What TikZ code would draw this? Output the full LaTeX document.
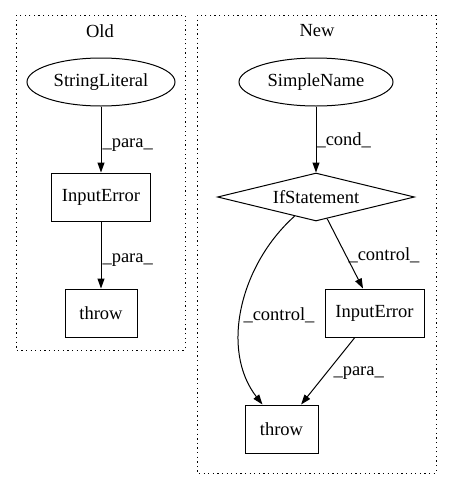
\documentclass[tikz,border=0pt]{standalone}
\usepackage{fontspec}
\setmainfont{Liberation Serif}
\usetikzlibrary{shapes.geometric}
\usetikzlibrary{arrows.meta}

\begin{document}
\begin{tikzpicture}[x=1pt,y=-1pt,line width=1pt,
  font=\fontsize{18.5}{22}\selectfont,
  cluster/.style={draw,line width=0.9pt,dash pattern=on 1.3pt off 3.3pt},
  ellnode/.style={draw,ellipse,inner sep=0pt,minimum width=148pt,minimum height=48pt},
  boxnode/.style={draw,rectangle,inner sep=0pt,minimum height=48pt},
  ifnode/.style={draw,diamond,aspect=4,inner sep=0pt,minimum width=197pt,minimum height=48pt},
  flow/.style={-{Triangle[length=10pt,width=7pt]}},
  elabel/.style={anchor=west,inner sep=0pt}]
\useasboundingbox (0,0) rectangle (451,480);
% clusters
\draw[cluster] (16,15) rectangle (185,350);
\node (oldtitle) at (100,31) {Old};
\draw[cluster] (197,15) rectangle (436,473);
\node (newtitle) at (317,31) {New};
% old
\node[ellnode] (strlit) at (101,82) {StringLiteral};
\node[boxnode,minimum width=99pt] (inerr1) at (101,197) {InputError};
\node[boxnode,minimum width=72pt] (throw1) at (101,313) {throw};
\draw[flow] (strlit) -- (inerr1);
\draw[flow] (inerr1) -- (throw1);
\node[elabel] (lpara1) at (102,145) {\_para\_};
\node[elabel] (lpara2) at (102,260) {\_para\_};
% new
\node[ellnode,minimum width=154pt] (simname) at (316,82) {SimpleName};
\node[ifnode] (ifst) at (316,197) {IfStatement};
\node[boxnode,minimum width=99pt] (inerr2) at (374.5,313) {InputError};
\node[boxnode,minimum width=73pt] (throw2) at (281.5,429) {throw};
\draw[flow] (simname) -- (ifst);
\draw[flow] (ifst) -- ([xshift=-11.5pt]inerr2.north);
\draw[flow] (ifst) .. controls (240,265) and (220,350) .. (throw2);
\draw[flow] (inerr2) -- (throw2);
\node[elabel] (lcond) at (316,140) {\_cond\_};
\node[elabel] (lctrl1) at (348,255) {\_control\_};
\node[elabel] (lctrl2) at (243,315) {\_control\_};
\node[elabel] (lpara3) at (333,373) {\_para\_};
\end{tikzpicture}
\end{document}
